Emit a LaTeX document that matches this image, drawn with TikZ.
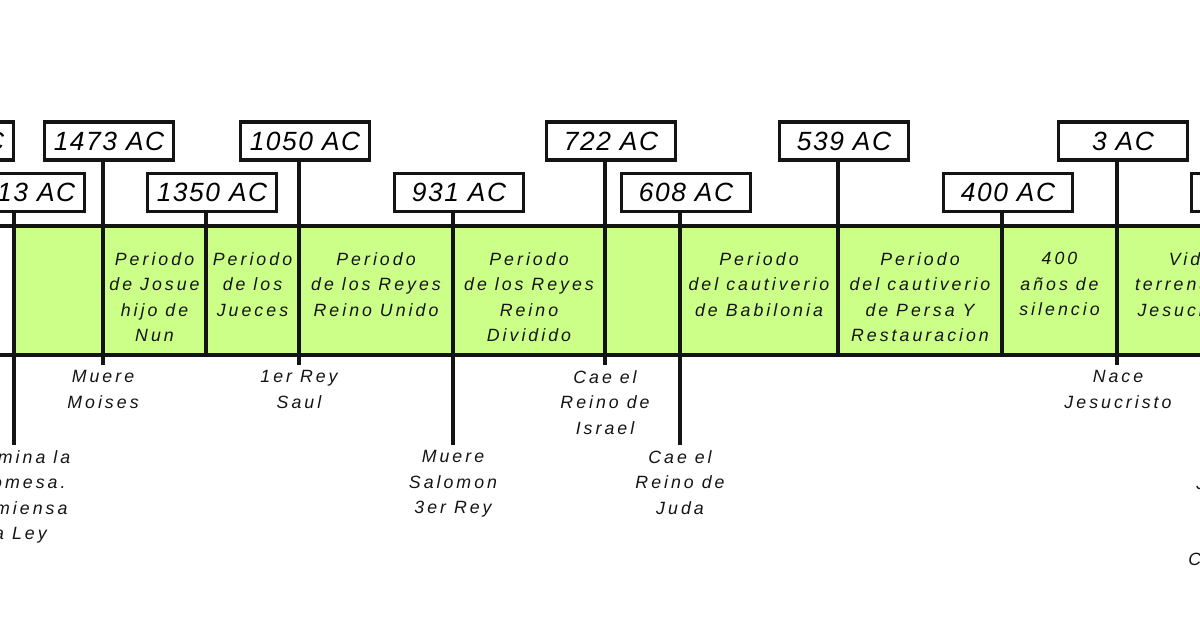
\documentclass[tikz,border=0pt]{standalone}
\usepackage{fontspec}
\setmainfont{Liberation Sans}
\usepackage{xcolor}
\usetikzlibrary{positioning,calc}
\definecolor{band}{HTML}{CCFF88}
\definecolor{ink}{HTML}{141414}
\newfontfamily\yearfont[LetterSpace=6]{Liberation Sans}
\newfontfamily\notefont[LetterSpace=17]{Liberation Sans}

\begin{document}
\begin{tikzpicture}[
  x=0.02cm, y=-0.02cm,
  yearbox/.style={draw=ink, line width=2pt, fill=white, inner sep=0pt,
    minimum width=2.58cm, minimum height=0.76cm,
    font=\yearfont\itshape\fontsize{15}{18}\selectfont},
  cell/.style={anchor=north, align=center, inner sep=0pt, text=ink,
    font=\notefont\itshape\fontsize{10.1}{14.5}\selectfont},
  note/.style={cell},
  stem/.style={draw=ink, line width=2pt},
]
  \useasboundingbox (0,0) rectangle (1200,630);
  \clip (0,0) rectangle (1200,630);
  \fill[white] (0,0) rectangle (1200,630);

  % band
  \fill[band] (14,226) rectangle (1200,355);
  \draw[stem] (0,226) -- (1200,226);
  \draw[stem] (0,355) -- (1200,355);

  % dates
  \foreach \x/\yr/\ry/\ey in {-57/1943/141/365, 14/1513/192.5/445,
      103/1473/141/365, 206/1350/192.5/355, 299/1050/141/365,
      453/931/192.5/445, 605/722/141/365, 680/608/192.5/445,
      838/539/141/355, 1002/400/192.5/355, 1117/3/141/365}{
    \coordinate (e\yr) at (\x,\ey);
    \node[yearbox] (y\yr) at (\x+6,\ry) {\yr\ AC};
    \draw[stem] (y\yr.south -| e\yr) -- (e\yr);
  }
  \node[yearbox] (y33) at (1256,192.5) {};

  % periods
  \node[cell] (josue) at (154.5,252) {Periodo\\de Josue\\hijo de\\Nun};
  \node[cell] (jueces) at (252.5,252) {Periodo\\de los\\Jueces};
  \node[cell] (unido) at (376,252) {Periodo\\de los Reyes\\Reino Unido};
  \node[cell] (dividido) at (529,252) {Periodo\\de los Reyes\\Reino\\Dividido};
  \node[cell] (babilonia) at (759,252) {Periodo\\del cautiverio\\de Babilonia};
  \node[cell] (persa) at (920,252) {Periodo\\del cautiverio\\de Persa Y\\Restauracion};
  \node[cell] (silencio) at (1059.5,252) {400\\años de\\silencio};
  \node[cell] (vida) at (1191,252) {Vida\\terrenal de\\Jesucristo};

  % events
  \node[note] (ley) at (17,450) {Termina la\\Promesa.\\Comiensa\\la Ley};
  \node[note] (moises) at (103,370) {Muere\\Moises};
  \node[note] (saul) at (299,370) {1er Rey\\Saul};
  \node[note] (salomon) at (453,450) {Muere\\Salomon\\3er Rey};
  \node[note] (israel) at (605,370) {Cae el\\Reino de\\Israel};
  \node[note] (juda) at (680,450) {Cae el\\Reino de\\Juda};
  \node[note] (nace) at (1118,370) {Nace\\Jesucristo};
  \node[note, anchor=base west] (cut1) at (1196,489) {J};
  \node[note, anchor=base west] (cut2) at (1188,565) {C};
\end{tikzpicture}
\end{document}
